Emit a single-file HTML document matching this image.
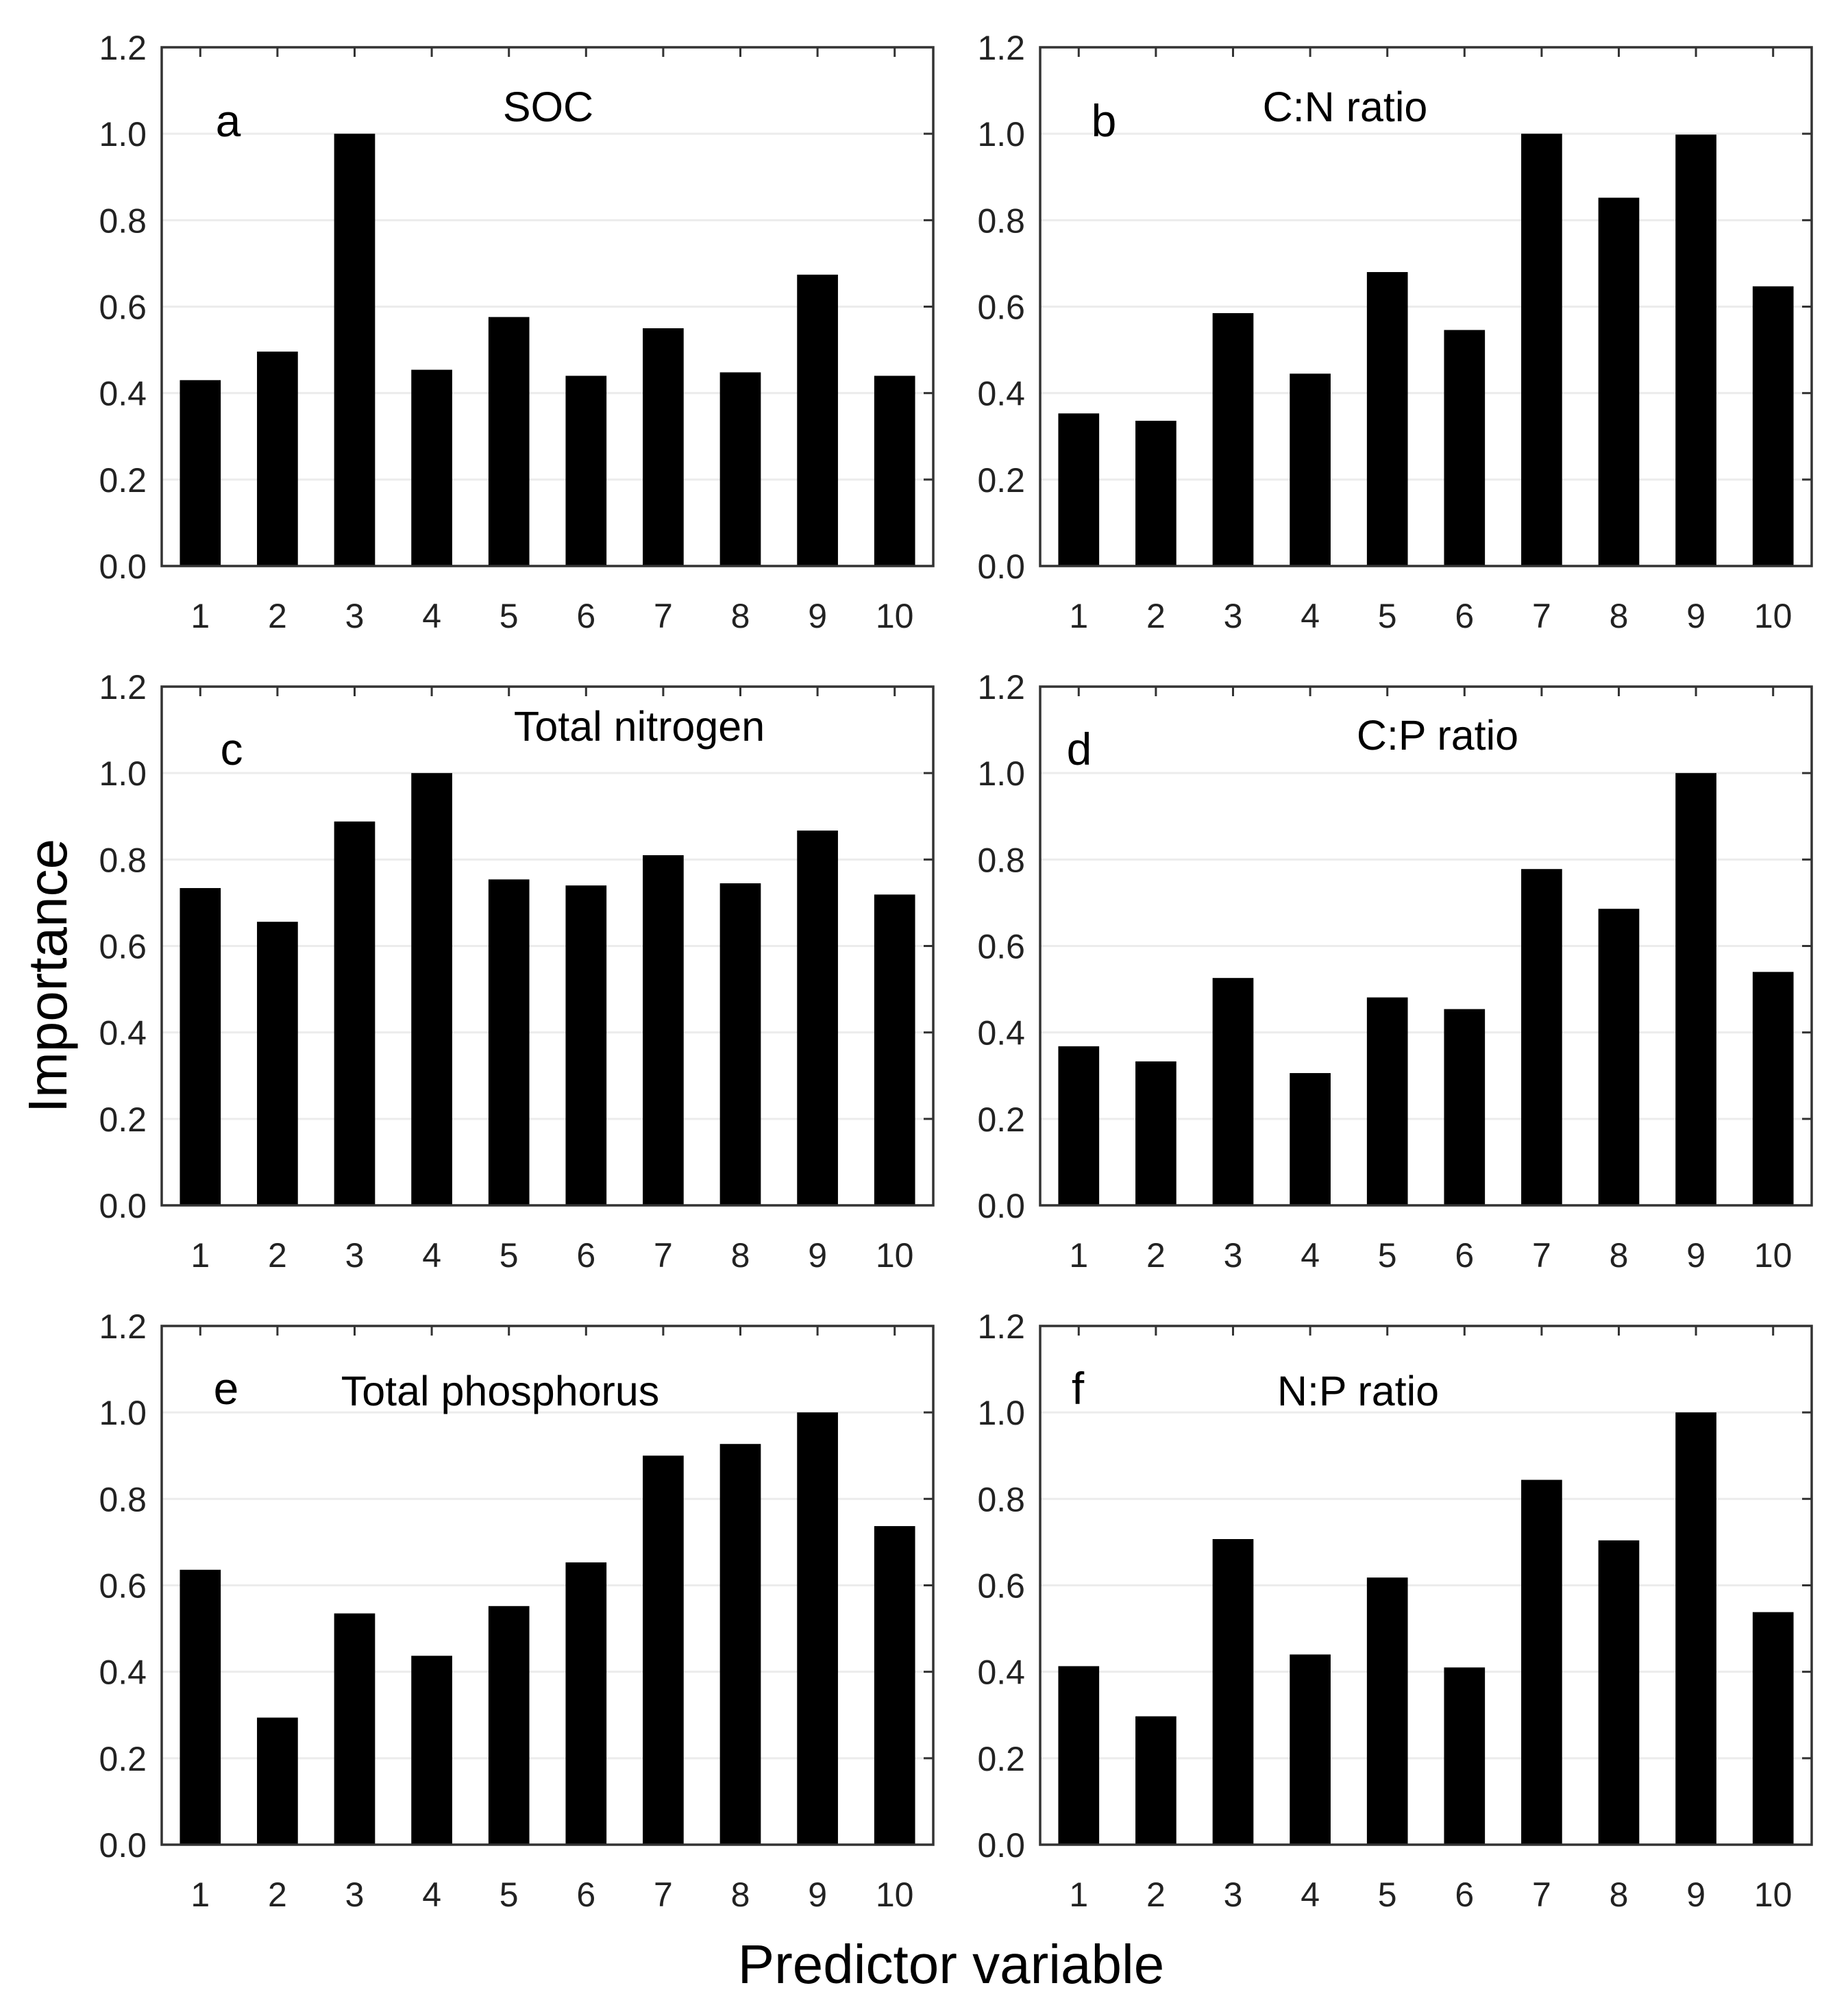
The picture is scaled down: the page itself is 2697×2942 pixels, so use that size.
<!DOCTYPE html>
<html><head><meta charset="utf-8"><style>
html,body{margin:0;padding:0;background:#fff;}
svg{display:block;font-family:"Liberation Sans",sans-serif;}
</style></head><body>
<svg id="chart" width="2697" height="2942" viewBox="0 0 2697 2942" xmlns="http://www.w3.org/2000/svg"></svg>
<script>
const categories = [1,2,3,4,5,6,7,8,9,10];
const yTicks = [0.0,0.2,0.4,0.6,0.8,1.0,1.2];
const panelLetters = ['a','b','c','d','e','f'];
const panelTitles = ['SOC','C:N ratio','Total nitrogen','C:P ratio','Total phosphorus','N:P ratio'];
const socValues = [0.43,0.496,1.0,0.454,0.576,0.44,0.55,0.448,0.674,0.44];
const cnValues = [0.353,0.336,0.585,0.445,0.68,0.546,1.0,0.852,0.998,0.647];
const tnValues = [0.734,0.656,0.888,1.0,0.754,0.74,0.81,0.745,0.867,0.719];
const cpValues = [0.368,0.333,0.526,0.306,0.481,0.454,0.778,0.686,1.0,0.54];
const tpValues = [0.636,0.294,0.535,0.437,0.552,0.653,0.9,0.927,1.0,0.737];
const npValues = [0.413,0.297,0.707,0.44,0.618,0.41,0.844,0.704,1.0,0.538];
const seriesList = [socValues,cnValues,tnValues,cpValues,tpValues,npValues];

const NS='http://www.w3.org/2000/svg';
const svg=document.getElementById('chart');
function mk(tag,attrs,parent){const e=document.createElementNS(NS,tag);for(const k in attrs)e.setAttribute(k,attrs[k]);(parent||svg).appendChild(e);return e;}

const colX=[236,1518], W=1126, rowTop=[69,1002,1935], H=757;
const letterPos=[[97,130],[93,130],[102,114],[57,114],[94,114],[55,114]];
const titlePos=[[564,108],[445,108],[697,79],[580,92],[494,116],[464,116]];

for(let p=0;p<6;p++){
  const x0=colX[p%2], y0=rowTop[Math.floor(p/2)];
  const g=mk('g',{});
  
  
  const ymax=1.2;
  const yScale=v=>y0+H-v/ymax*H;
  const slot=W/categories.length;
  const xScale=i=>x0+slot*(i+0.5);
  yTicks.forEach(t=>{
    if(t>0&&t<1.2){
      const l=mk('line',{x1:x0,x2:x0+W,y1:yScale(t),y2:yScale(t),stroke:'#ececec','stroke-width':3},g);
      
      
    }
  });
  const vals=seriesList[p];
  categories.forEach((c,i)=>{
    const bw=slot*0.53;
    const r=mk('rect',{x:xScale(i)-bw/2,y:yScale(vals[i]),width:bw,height:yScale(0)-yScale(vals[i]),fill:'#000'},g);
    
    
    const tl=mk('text',{x:xScale(i),y:y0+H+90,'font-size':50,'text-anchor':'middle',fill:'#222'},g);
    tl.textContent=c;
    
    
    mk('line',{x1:xScale(i),x2:xScale(i),y1:y0,y2:y0+14,stroke:'#333','stroke-width':3},g);
  });
  yTicks.forEach(t=>{
    const tl=mk('text',{x:x0-22,y:yScale(t)+18,'font-size':50,'text-anchor':'end',fill:'#222'},g);
    tl.textContent=t.toFixed(1);
    
    
    mk('line',{x1:x0+W-14,x2:x0+W,y1:yScale(t),y2:yScale(t),stroke:'#333','stroke-width':3},g);
  });
  const fr=mk('rect',{x:x0,y:y0,width:W,height:H,fill:'none',stroke:'#333','stroke-width':3.5},g);
  
  
  const lt=mk('text',{x:x0+letterPos[p][0],y:y0+letterPos[p][1],'font-size':66,'text-anchor':'middle',fill:'#000'},g);
  lt.textContent=panelLetters[p];
  
  
  const tt=mk('text',{x:x0+titlePos[p][0],y:y0+titlePos[p][1],'font-size':61,'text-anchor':'middle',fill:'#000'},g);
  tt.textContent=panelTitles[p];
  
  
}
const yt=mk('text',{x:0,y:0,'font-size':80,'text-anchor':'middle',fill:'#000',transform:'translate(97,1424) rotate(-90)'});
yt.textContent='Importance';


const xt=mk('text',{x:1388,y:2894,'font-size':80,'text-anchor':'middle',fill:'#000'});
xt.textContent='Predictor variable';


</script>
</body></html>
